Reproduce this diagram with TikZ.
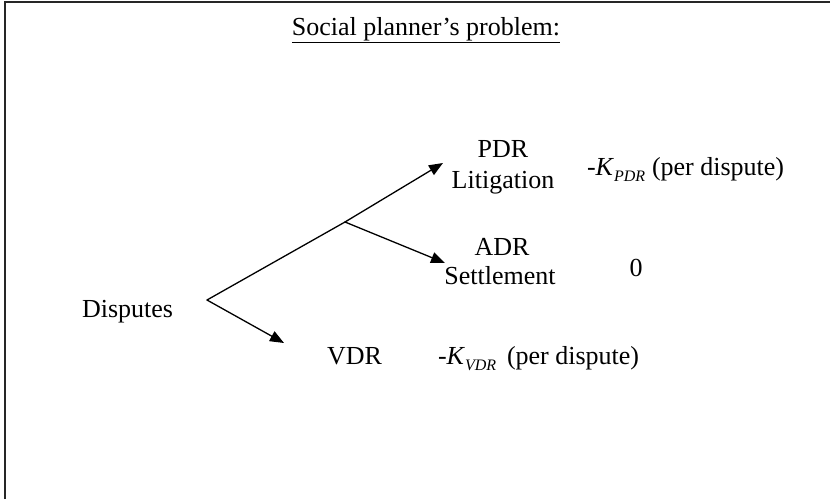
\documentclass[tikz,border=0pt]{standalone}
\usepackage{fontspec}
\setmainfont{Liberation Serif}
\usetikzlibrary{arrows.meta}
\newcommand{\Kcost}[1]{\textit{-K}\raisebox{-0.25em}{\fontsize{16}{18}\selectfont\textit{#1}}}
\tikzset{
  lbl/.style={inner sep=0pt, outer sep=0pt, font=\fontsize{26}{30}\selectfont},
  branch/.style={line width=1.3pt, line cap=round},
  arr/.style={branch, -{Triangle[length=14pt,width=11pt]}},
  frame/.style={line width=1.8pt, draw=black!85}
}
\begin{document}
\begin{tikzpicture}[x=1pt,y=-1pt]
\useasboundingbox (0,0) rectangle (830,499);
\draw[frame] (5,499) -- (5,2) -- (830,2);
\node[lbl, anchor=base] (title) at (426,35) {\underline{Social planner’s problem:}};
\node[lbl, anchor=base west] (disp) at (82,317) {Disputes};
\node[lbl, anchor=base] (pdr) at (503,157) {PDR};
\node[lbl, anchor=base] (lit) at (503,188) {Litigation};
\node[lbl, anchor=base] (adr) at (502,255) {ADR};
\node[lbl, anchor=base] (set) at (500,284) {Settlement};
\node[lbl, anchor=base west] (vdr) at (327,364) {VDR};
\node[lbl, anchor=base west] (kp) at (587,175) {\Kcost{PDR}};
\node[lbl, anchor=base west] (kpp) at (652,175) {(per dispute)};
\node[lbl, anchor=base] (zero) at (636,276) {0};
\node[lbl, anchor=base west] (kv) at (438,364) {\Kcost{VDR}};
\node[lbl, anchor=base west] (kvp) at (507,364) {(per dispute)};
\coordinate (v) at (207,300);
\coordinate (b) at (345,222);
\coordinate (tp) at (443,163);
\coordinate (ta) at (445,263);
\coordinate (tv) at (284,343);
\draw[branch] (v) -- (b);
\draw[arr] (b) -- (tp);
\draw[arr] (b) -- (ta);
\draw[arr] (v) -- (tv);
\end{tikzpicture}
\end{document}
